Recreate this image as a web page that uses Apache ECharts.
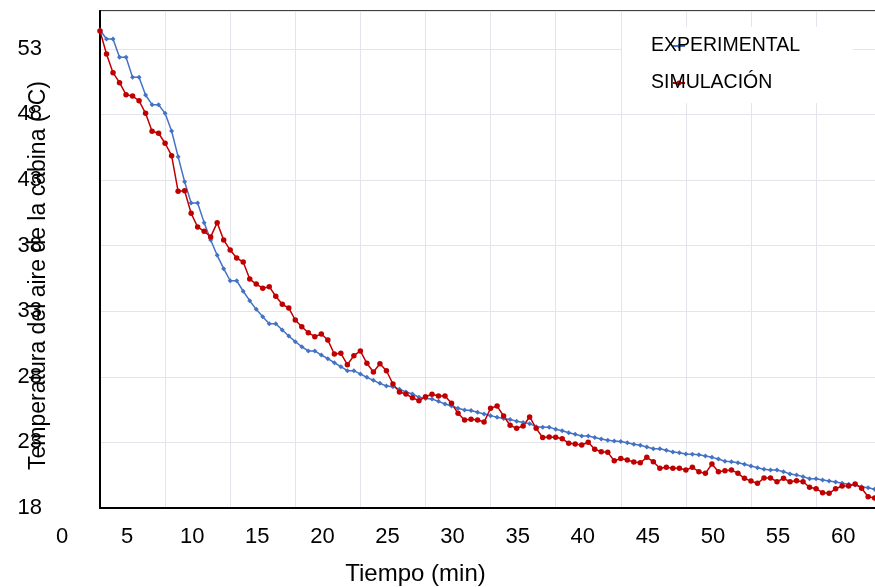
<!DOCTYPE html>
<html>
<head>
<meta charset="utf-8">
<script src="https://cdn.jsdelivr.net/npm/echarts@6/dist/echarts.min.js"></script>
<style>
  html, body { margin: 0; padding: 0; background: #fff; }
  #chart { width: 875px; height: 587px; }
</style>
</head>
<body>
<div id="chart"></div>
<script>
// tiempo en minutos (un punto cada medio minuto)
var tiempo = [3,3.5,4,4.5,5,5.5,6,6.5,7,7.5,8,8.5,9,9.5,10,10.5,11,11.5,12,12.5,
  13,13.5,14,14.5,15,15.5,16,16.5,17,17.5,18,18.5,19,19.5,20,20.5,21,21.5,22,22.5,
  23,23.5,24,24.5,25,25.5,26,26.5,27,27.5,28,28.5,29,29.5,30,30.5,31,31.5,32,32.5,
  33,33.5,34,34.5,35,35.5,36,36.5,37,37.5,38,38.5,39,39.5,40,40.5,41,41.5,42,42.5,
  43,43.5,44,44.5,45,45.5,46,46.5,47,47.5,48,48.5,49,49.5,50,50.5,51,51.5,52,52.5,
  53,53.5,54,54.5,55,55.5,56,56.5,57,57.5,58,58.5,59,59.5,60,60.5,61,61.5,62,62.5];

var experimental = [54.43,53.75,53.75,52.35,52.35,50.83,50.83,49.48,48.74,48.74,
  48.08,46.73,44.78,42.87,41.25,41.25,39.75,38.43,37.26,36.24,
  35.32,35.32,34.52,33.80,33.14,32.58,32.05,32.05,31.57,31.11,
  30.68,30.29,29.97,29.97,29.66,29.38,29.07,28.77,28.47,28.47,
  28.21,27.96,27.73,27.50,27.30,27.25,27.05,26.84,26.69,26.44,
  26.35,26.31,26.13,25.93,25.77,25.61,25.47,25.43,25.30,25.16,
  25.04,24.91,24.82,24.74,24.62,24.52,24.43,24.20,24.15,24.15,
  24.01,23.89,23.74,23.62,23.49,23.49,23.37,23.26,23.17,23.11,
  23.07,22.98,22.86,22.78,22.65,22.52,22.52,22.40,22.27,22.21,
  22.12,22.09,22.06,21.96,21.86,21.73,21.56,21.53,21.45,21.33,
  21.20,21.07,20.95,20.90,20.90,20.77,20.59,20.52,20.39,20.23,
  20.23,20.13,20.06,19.98,19.88,19.81,19.75,19.62,19.55,19.43];

var simulacion = [54.36,52.60,51.18,50.42,49.50,49.40,49.04,48.08,46.71,46.56,
  45.80,44.85,42.14,42.18,40.46,39.42,39.09,38.66,39.75,38.43,
  37.66,37.05,36.75,35.45,35.07,34.75,34.87,34.14,33.53,33.24,
  32.33,31.82,31.36,31.06,31.26,30.80,29.74,29.79,28.92,29.61,
  29.97,29.03,28.37,29.00,28.46,27.45,26.84,26.69,26.40,26.18,
  26.48,26.67,26.54,26.54,25.98,25.22,24.71,24.76,24.71,24.55,
  25.60,25.77,25.01,24.31,24.07,24.25,24.94,24.07,23.37,23.41,
  23.39,23.28,22.93,22.88,22.80,23.01,22.48,22.29,22.24,21.60,
  21.77,21.66,21.51,21.45,21.86,21.53,21.03,21.10,21.03,21.03,
  20.90,21.10,20.77,20.64,21.35,20.77,20.84,20.90,20.64,20.26,
  20.06,19.88,20.29,20.29,20.00,20.26,20.00,20.08,20.00,19.58,
  19.47,19.17,19.12,19.47,19.68,19.68,19.83,19.50,18.86,18.76];

var font = 'Liberation Sans';

var expData = [];
var simData = [];
tiempo.forEach(function (t, i) {
  expData.push([t, experimental[i]]);
  simData.push([t, simulacion[i]]);
});

var myChart = echarts.init(document.getElementById('chart'));
myChart.setOption({
  animation: false,
  grid: [
    { left: 100, top: 11, right: -2, bottom: 79, show: true, borderColor: '#000', borderWidth: 1.5, outerBoundsMode: 'none', containLabel: false },
    // solo para las etiquetas del eje x
    { left: 62, top: 11, right: -2, bottom: 79, show: false, outerBoundsMode: 'none', containLabel: false }
  ],
  legend: {
    orient: 'vertical',
    left: 651,
    top: 36,
    padding: 0,
    itemGap: 17,
    itemWidth: 12,
    itemHeight: 6,
    textStyle: { fontFamily: font, fontSize: 19.5, color: '#000', padding: [0, 0, 0, -39] },
    data: ['EXPERIMENTAL', 'SIMULACIÓN']
  },
  graphic: [
    { type: 'rect', left: 622, top: 27, z: 3, shape: { width: 231, height: 76 }, style: { fill: '#fff' } }
  ],
  xAxis: [
    {
      type: 'value', gridIndex: 0, min: 3, max: 62.68, interval: 5,
      name: 'Tiempo (min)', nameLocation: 'middle', nameGap: 54, nameMoveOverlap: false,
      nameTextStyle: { fontFamily: font, fontSize: 24, color: '#000', padding: [0, 146, 0, 0] },
      axisLine: { lineStyle: { color: '#000', width: 2 } },
      axisTick: { show: false },
      axisLabel: { show: false },
      splitLine: { show: true, lineStyle: { color: '#e4e4ec', width: 1 } }
    },
    {
      type: 'value', gridIndex: 1, min: 0, max: 62.6, interval: 5,
      axisLine: { show: false },
      axisTick: { show: false },
      splitLine: { show: false },
      axisLabel: { fontFamily: font, fontSize: 22, color: '#000', margin: 18, showMaxLabel: false }
    }
  ],
  yAxis: [
    {
      type: 'value', gridIndex: 0, min: 18, max: 55.88, interval: 5,
      name: 'Temperatura del aire de la cabina (°C)', nameLocation: 'middle', nameGap: 50, nameMoveOverlap: false,
      nameTextStyle: { fontFamily: font, fontSize: 23, color: '#000', padding: [0, 32, 0, 0] },
      axisLine: { show: true, lineStyle: { color: '#000', width: 2 } },
      axisTick: { show: false },
      axisLabel: { fontFamily: font, fontSize: 22, color: '#000', margin: 58, showMaxLabel: false },
      splitLine: { show: true, lineStyle: { color: '#e4e4ec', width: 1 } }
    },
    { type: 'value', gridIndex: 1, show: false, min: 18, max: 55.88 }
  ],
  series: [
    {
      name: 'EXPERIMENTAL',
      type: 'line',
      xAxisIndex: 0, yAxisIndex: 0,
      data: expData,
      symbol: 'diamond',
      symbolSize: 5,
      itemStyle: { color: '#4472C4' },
      lineStyle: { color: '#4472C4', width: 1.5 }
    },
    {
      name: 'SIMULACIÓN',
      type: 'line',
      xAxisIndex: 0, yAxisIndex: 0,
      data: simData,
      symbol: 'circle',
      symbolSize: 5.5,
      itemStyle: { color: '#C00000' },
      lineStyle: { color: '#C00000', width: 1.5 }
    }
  ]
});
</script>
</body>
</html>
